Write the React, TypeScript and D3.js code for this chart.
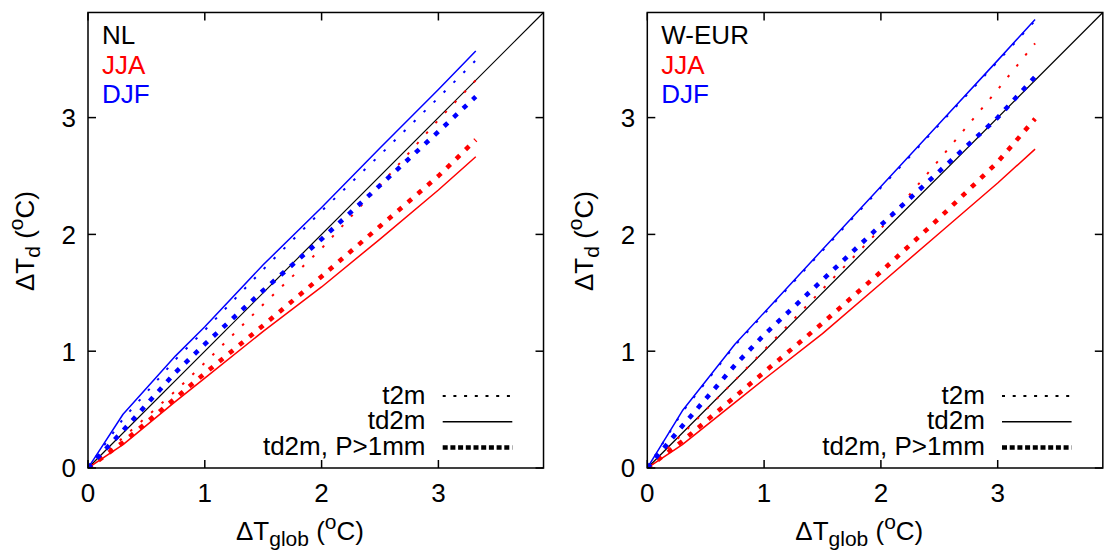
import React from "react";
import * as d3 from "d3";

// global warming (x) sampling points, degC
const xGlob = [0, 0.3, 0.75, 1.0, 1.5, 2.0, 2.5, 3.0, 3.32];

// NL
const nlDjfT2m = [0, 0.42, 0.93, 1.18, 1.7, 2.2, 2.68, 3.17, 3.49];
const nlDjfTd2m = [0, 0.46, 0.96, 1.21, 1.74, 2.23, 2.74, 3.24, 3.57];
const nlDjfTd2mP = [0, 0.32, 0.82, 1.06, 1.52, 1.96, 2.42, 2.88, 3.18];
const nlJjaT2m = [0, 0.26, 0.66, 0.9, 1.4, 1.88, 2.42, 2.98, 3.32];
const nlJjaTd2m = [0, 0.2, 0.57, 0.77, 1.17, 1.55, 1.96, 2.38, 2.665];
const nlJjaTd2mP = [0, 0.22, 0.6, 0.81, 1.22, 1.64, 2.07, 2.5, 2.81];

// W-EUR
const weDjfT2m = [0, 0.48, 1.05, 1.32, 1.86, 2.4, 2.94, 3.48, 3.83];
const weDjfTd2m = [0, 0.49, 1.06, 1.33, 1.87, 2.41, 2.95, 3.49, 3.84];
const weDjfTd2mP = [0, 0.36, 0.88, 1.14, 1.61, 2.08, 2.54, 3.0, 3.35];
const weJjaT2m = [0, 0.29, 0.75, 1.01, 1.53, 2.05, 2.64, 3.24, 3.636];
const weJjaTd2m = [0, 0.2, 0.56, 0.76, 1.15, 1.58, 2.01, 2.44, 2.73];
const weJjaTd2mP = [0, 0.23, 0.61, 0.82, 1.24, 1.68, 2.14, 2.62, 2.99];

const axisTicks = [0, 1, 2, 3];
const legendLabels = ["t2m", "td2m", "td2m, P>1mm"];
const seasonLabels = ["JJA", "DJF"];

const RED = "#ff0000";
const BLUE = "#0000ff";
const FONT = "'Liberation Sans', Arial, Helvetica, sans-serif";
const FS = 26;
const FS_SMALL = 21;

type Style = "dot" | "solid" | "thick";
const styleAttrs = (s: Style, legend = false) => {
  if (s === "solid") return { strokeWidth: 1.5, strokeDasharray: undefined as string | undefined };
  if (s === "dot") return { strokeWidth: 2, strokeDasharray: legend ? "3,7.7" : "2.5,11.5" };
  return { strokeWidth: 4.5, strokeDasharray: legend ? "5,2.7" : "5,8" };
};

type Panel = {
  name: string;
  x0: number;
  series: { ys: number[]; color: string; style: Style }[];
};

const panels: Panel[] = [
  {
    name: "NL",
    x0: 88,
    series: [
      { ys: nlJjaT2m, color: RED, style: "dot" },
      { ys: nlJjaTd2m, color: RED, style: "solid" },
      { ys: nlJjaTd2mP, color: RED, style: "thick" },
      { ys: nlDjfT2m, color: BLUE, style: "dot" },
      { ys: nlDjfTd2m, color: BLUE, style: "solid" },
      { ys: nlDjfTd2mP, color: BLUE, style: "thick" },
    ],
  },
  {
    name: "W-EUR",
    x0: 647.3,
    series: [
      { ys: weJjaT2m, color: RED, style: "dot" },
      { ys: weJjaTd2m, color: RED, style: "solid" },
      { ys: weJjaTd2mP, color: RED, style: "thick" },
      { ys: weDjfT2m, color: BLUE, style: "dot" },
      { ys: weDjfTd2m, color: BLUE, style: "solid" },
      { ys: weDjfTd2mP, color: BLUE, style: "thick" },
    ],
  },
];

const UNIT = 116.8;
const MAXV = 3.9;
const Y0 = 468;

function PanelView({ p }: { p: Panel }) {
  const x = d3.scaleLinear().domain([0, MAXV]).range([p.x0, p.x0 + MAXV * UNIT]);
  const y = d3.scaleLinear().domain([0, MAXV]).range([Y0, Y0 - MAXV * UNIT]);
  const [xa, xb] = x.range();
  const [ya, yb] = y.range();
  const line = d3
    .line<number>()
    .x((_, i) => x(xGlob[i]))
    .y((d) => y(d));
  const tl = 8;
  const legendStyles: Style[] = ["dot", "solid", "thick"];
  return (
    <g>
      <defs>
        <clipPath id={`clip-${p.name}`}>
          <rect x={xa} y={yb} width={xb - xa} height={ya - yb} />
        </clipPath>
      </defs>
      {/* diagonal 1:1 */}
      <line
        x1={x(0)}
        y1={y(0)}
        x2={x(MAXV)}
        y2={y(MAXV)}
        stroke="#000"
        strokeWidth={1.2}
      />
      <g clipPath={`url(#clip-${p.name})`}>
        {p.series.map((s, i) => {
          const a = styleAttrs(s.style);
          return (
            <path
              key={i}
              d={line(s.ys) || ""}
              fill="none"
              stroke={s.color}
              strokeWidth={a.strokeWidth}
              strokeDasharray={a.strokeDasharray}
              strokeLinejoin="round"
            />
          );
        })}
      </g>
      {/* frame */}
      <rect
        x={xa}
        y={yb}
        width={xb - xa}
        height={ya - yb}
        fill="none"
        stroke="#000"
        strokeWidth={1.5}
      />
      {axisTicks.map((t) => (
        <g key={"t" + t} stroke="#000" strokeWidth={1.5}>
          <line x1={x(t)} x2={x(t)} y1={ya} y2={ya - tl} />
          <line x1={x(t)} x2={x(t)} y1={yb} y2={yb + tl} />
          <line x1={xa} x2={xa + tl} y1={y(t)} y2={y(t)} />
          <line x1={xb} x2={xb - tl} y1={y(t)} y2={y(t)} />
        </g>
      ))}
      {axisTicks.map((t) => (
        <text
          key={"xl" + t}
          x={x(t)}
          y={501.5}
          textAnchor="middle"
          fontSize={FS}
          fontFamily={FONT}
        >
          {t}
        </text>
      ))}
      {axisTicks.map((t) => (
        <text
          key={"yl" + t}
          x={xa - 12}
          y={y(t) + 9.3}
          textAnchor="end"
          fontSize={FS}
          fontFamily={FONT}
        >
          {t}
        </text>
      ))}
      {/* axis titles */}
      <text x={xa + 148} y={540} fontSize={FS} fontFamily={FONT}>
        ΔT
        <tspan fontSize={FS_SMALL} dy={6}>
          glob
        </tspan>
        <tspan dy={-6}>{" ("}</tspan>
        <tspan fontSize={FS_SMALL} dy={-11}>
          o
        </tspan>
        <tspan dy={11}>C)</tspan>
      </text>
      <text
        transform={`translate(${xa - 54},291) rotate(-90)`}
        fontSize={FS}
        fontFamily={FONT}
      >
        ΔT
        <tspan fontSize={FS_SMALL} dy={6}>
          d
        </tspan>
        <tspan dy={-6}>{" ("}</tspan>
        <tspan fontSize={FS_SMALL} dy={-11}>
          o
        </tspan>
        <tspan dy={11}>C)</tspan>
      </text>
      {/* region / season labels */}
      <text x={xa + 14} y={44.3} fontSize={FS} fontFamily={FONT} fill="#000">
        {p.name}
      </text>
      <text x={xa + 14} y={74} fontSize={FS} fontFamily={FONT} fill={RED}>
        {seasonLabels[0]}
      </text>
      <text x={xa + 14} y={103.3} fontSize={FS} fontFamily={FONT} fill={BLUE}>
        {seasonLabels[1]}
      </text>
      {/* legend */}
      {legendLabels.map((lab, i) => {
        const a = styleAttrs(legendStyles[i], true);
        const ly = 396 + i * 25.8;
        return (
          <g key={"lg" + i}>
            <text
              x={xa + 337.5}
              y={ly + 7.5}
              textAnchor="end"
              fontSize={FS}
              fontFamily={FONT}
            >
              {lab}
            </text>
            <line
              x1={xa + 354.7}
              x2={xa + 424.3}
              y1={ly}
              y2={ly}
              stroke="#000"
              strokeWidth={a.strokeWidth}
              strokeDasharray={a.strokeDasharray}
            />
          </g>
        );
      })}
    </g>
  );
}

export default function App() {
  return (
    <svg
      width={1117}
      height={554}
      style={{ position: "absolute", left: 0, top: 0, background: "#fff" }}
    >
      <rect width={1117} height={554} fill="#fff" />
      {panels.map((p) => (
        <PanelView key={p.name} p={p} />
      ))}
    </svg>
  );
}
